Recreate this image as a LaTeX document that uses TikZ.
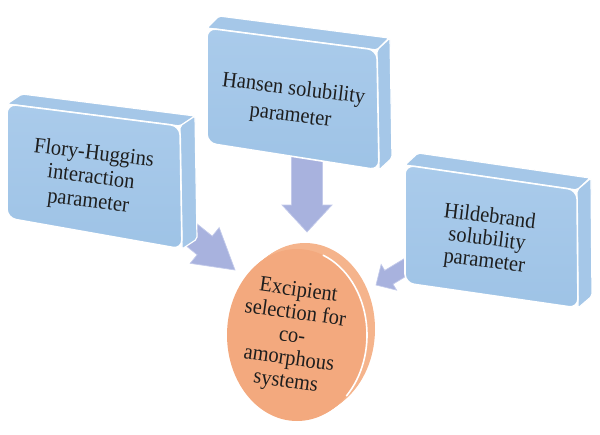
\documentclass[tikz,border=0pt]{standalone}
\usepackage{fontspec}
\setmainfont{Liberation Serif}
\newfontfamily\lblfont{Liberation Serif}[FakeStretch=0.93]
\usetikzlibrary{calc}
\definecolor{boxblue}{HTML}{9EC3E6}
\definecolor{boxtop}{HTML}{AACBEB}
\definecolor{slabblue}{HTML}{A5C7E8}
\definecolor{arrowblue}{HTML}{A8B2DE}
\definecolor{arrowedge}{HTML}{C3CAEA}
\definecolor{discfront}{HTML}{F3A97E}
\definecolor{discrim}{HTML}{F5B48C}
\definecolor{textdark}{HTML}{1E1E1E}
\begin{document}
\begin{tikzpicture}[x=1pt,y=-1pt,
  boxface/.style={top color=boxtop, bottom color=boxblue, draw=white, line width=1.6pt, rounded corners=9pt},
  slab/.style={fill=slabblue, draw=white, line width=1.2pt, rounded corners=2pt, line join=round},
  arrowbody/.style={fill=arrowblue, draw=arrowedge, line width=0.7pt, line join=miter},
  lbl/.style={text=textdark, align=center, inner sep=0pt},
]
\useasboundingbox (0,0) rectangle (600,434);

% ---------- disc ----------
\coordinate (dback) at (305,329);
\coordinate (dfront) at (297,335);
\foreach \t in {0,0.2,0.4,0.6,0.8}{
  \fill[discrim] ($(dback)!\t!(dfront)$) ellipse[x radius=70, y radius=86];
}
\fill[discfront] (dfront) ellipse[x radius=70, y radius=86];
\draw[white, line width=1.6pt, line cap=round] ([shift={(-68:70 and 86)}]dfront) arc[start angle=-68, end angle=45, x radius=70, y radius=86];

% ---------- block arrows ----------
\coordinate (tipL) at (235,270);
\coordinate (tipC) at (307,232);
\coordinate (tipR) at (376,285);
\begin{scope}[shift={(tipL)}, rotate=-39]
  \path[arrowbody] (0,0) -- (-39,23) -- (-39,12) -- (-78,12) -- (-78,-12) -- (-39,-12) -- (-39,-23) -- cycle;
\end{scope}
\begin{scope}[shift={(tipC)}, rotate=-90]
  \path[arrowbody] (0,0) -- (-27,25) -- (-27,15.5) -- (-82,15.5) -- (-82,-15.5) -- (-27,-15.5) -- (-27,-25) -- cycle;
\end{scope}
\begin{scope}[shift={(tipR)}, rotate=-149]
  \path[arrowbody] (0,0) -- (-15,15) -- (-15,8) -- (-48,8) -- (-48,-8) -- (-15,-8) -- (-15,-15) -- cycle;
\end{scope}

% ---------- left box ----------
\coordinate (a1) at (7,104);
\coordinate (a2) at (180,126);
\coordinate (a3) at (182,249);
\coordinate (a4) at (7,218);
\path[slab] (a1) -- ([shift={(15,-10)}]a1) -- ([shift={(15,-10)}]a2) -- (a2) -- cycle;
\path[slab] (a2) -- ([shift={(15,-10)}]a2) -- ([shift={(15,-10)}]a3) -- (a3) -- cycle;
\path[boxface] (a1) -- (a2) -- (a3) -- (a4) -- cycle;

% ---------- centre box ----------
\coordinate (b1) at (207,28);
\coordinate (b2) at (377,50);
\coordinate (b3) at (379,170);
\coordinate (b4) at (207,143);
\path[slab] (b1) -- ([shift={(12,-12)}]b1) -- ([shift={(12,-12)}]b2) -- (b2) -- cycle;
\path[slab] (b2) -- ([shift={(13,-12)}]b2) -- ([shift={(13,-12)}]b3) -- (b3) -- cycle;
\path[boxface] (b1) -- (b2) -- (b3) -- (b4) -- cycle;

% ---------- right box ----------
\coordinate (c1) at (405,165);
\coordinate (c2) at (577,190);
\coordinate (c3) at (578,308);
\coordinate (c4) at (405,283);
\path[slab] (c1) -- ([shift={(13,-12)}]c1) -- ([shift={(13,-12)}]c2) -- (c2) -- cycle;
\path[slab] (c2) -- ([shift={(14,-12)}]c2) -- ([shift={(14,-12)}]c3) -- (c3) -- cycle;
\path[boxface] (c1) -- (c2) -- (c3) -- (c4) -- cycle;

% ---------- labels ----------
\node[lbl, rotate=-7, font=\lblfont\fontsize{22}{24}\selectfont] (fh) at (91,178) {Flory-Huggins\\interaction\\parameter};
\node[lbl, rotate=-7, font=\lblfont\fontsize{22}{27}\selectfont] (hs) at (292,103) {Hansen solubility\\parameter};
\node[lbl, rotate=-7, font=\lblfont\fontsize{22}{22.5}\selectfont] (hb) at (487,240) {Hildebrand\\solubility\\parameter};
\node[lbl, rotate=-8, font=\lblfont\fontsize{22}{23}\selectfont] (ex) at (292,337) {Excipient\\selection for\\co-\\amorphous\\systems};
\end{tikzpicture}
\end{document}
